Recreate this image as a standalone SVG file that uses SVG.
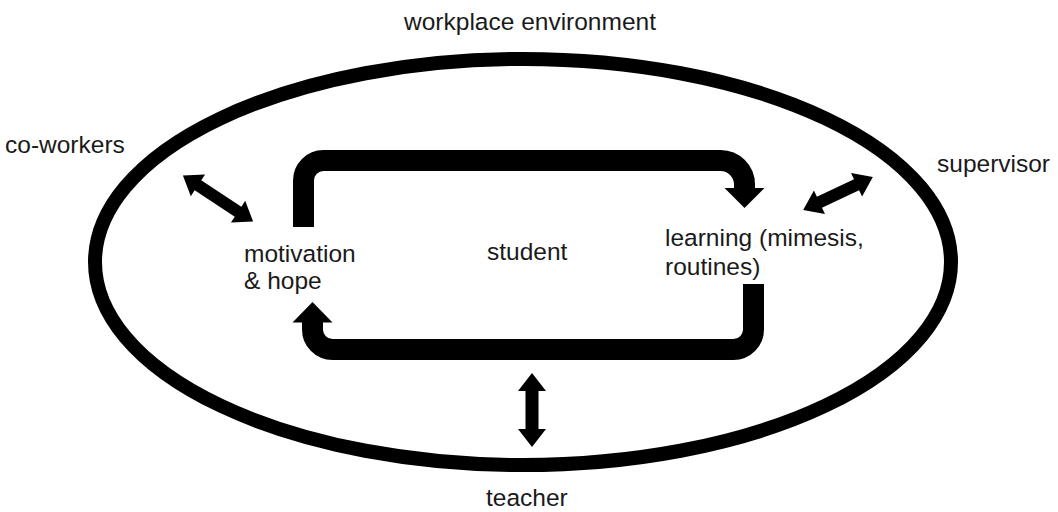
<svg xmlns="http://www.w3.org/2000/svg" width="1058" height="512" viewBox="0 0 1058 512">
  <style>
    .lbl { font-family: "Liberation Sans", Arial, sans-serif; font-size: 24.5px; fill: #1a1a1a; }
    .ring { fill: none; stroke: #000; stroke-width: 14; }
    .loop { fill: none; stroke: #000; stroke-width: 21; stroke-linecap: butt; }
    .solid { fill: #000; stroke: none; }
  </style>

  <rect width="1058" height="512" fill="#fff"/>

  <!-- environment boundary -->
  <g id="environment">
    <ellipse class="ring" cx="523" cy="262" rx="428" ry="203"/>
    <text class="lbl" x="530" y="30" text-anchor="middle">workplace environment</text>
  </g>

  <!-- outside actors -->
  <g id="coworkers">
    <text class="lbl" x="5" y="153">co-workers</text>
  </g>
  <g id="supervisor">
    <text class="lbl" x="937" y="172">supervisor</text>
  </g>
  <g id="teacher">
    <text class="lbl" x="486" y="506">teacher</text>
  </g>

  <!-- inner nodes -->
  <g id="motivation">
    <text class="lbl" x="244" y="262">motivation</text>
    <text class="lbl" x="244" y="289">&amp; hope</text>
  </g>
  <g id="student">
    <text class="lbl" x="487" y="260">student</text>
  </g>
  <g id="learning">
    <text class="lbl" x="665" y="246">learning (mimesis,</text>
    <text class="lbl" x="665" y="275">routines)</text>
  </g>

  <!-- connectors -->
  <g id="connectors">
    <!-- loop: motivation -> learning -->
    <path class="loop" d="M303.5,227 V180.5 A20,20 0 0 1 323.5,160.5 H720.5 A24,24 0 0 1 744.5,184.5 V189"/>
    <polygon class="solid" points="724.5,188 764.5,188 744.5,208"/>
    <!-- loop: learning -> motivation -->
    <path class="loop" d="M753.5,284 V329.5 A20,20 0 0 1 733.5,349.5 H332.5 A20,20 0 0 1 312.5,329.5 V321"/>
    <polygon class="solid" points="292.5,322.5 332.5,322.5 312.5,302"/>

    <!-- two-way exchanges -->
    <polygon class="solid" transform="translate(218,198.5) rotate(33.3)"
      points="-42,0 -24,-13 -24,-6 24,-6 24,-13 42,0 24,13 24,6 -24,6 -24,13"/>
    <polygon class="solid" transform="translate(838,193.5) rotate(-25.2)"
      points="-38.5,0 -20.5,-13 -20.5,-6 20.5,-6 20.5,-13 38.5,0 20.5,13 20.5,6 -20.5,6 -20.5,13"/>
    <polygon class="solid" transform="translate(532,410) rotate(90)"
      points="-37,0 -19,-14 -19,-6.5 19,-6.5 19,-14 37,0 19,14 19,6.5 -19,6.5 -19,14"/>
  </g>
</svg>
